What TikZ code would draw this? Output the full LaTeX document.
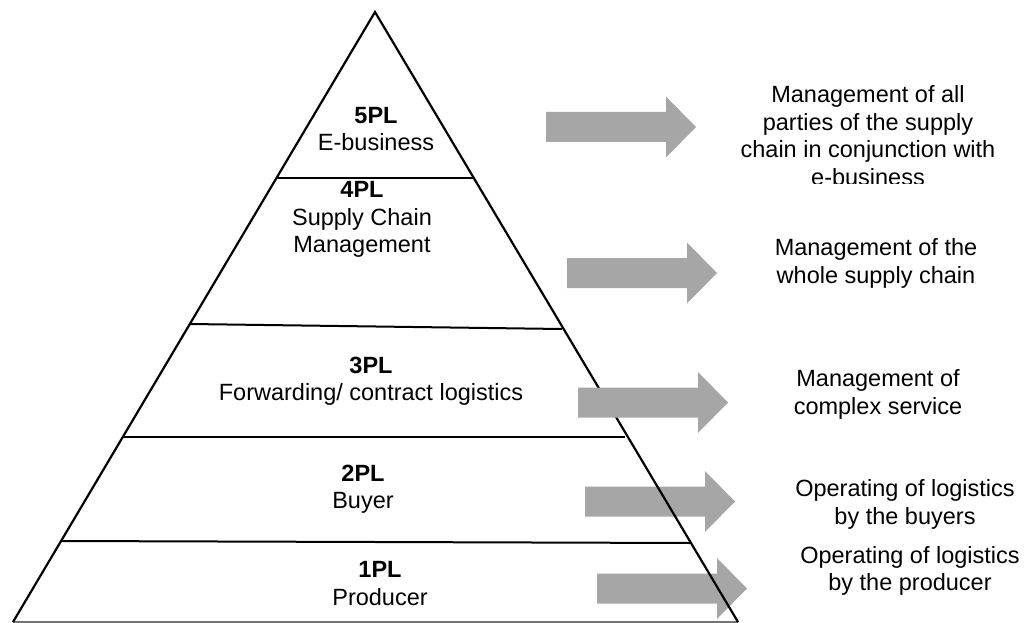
\documentclass[tikz,border=0pt]{standalone}
\usepackage{fontspec}
\setmainfont{Liberation Sans}
\begin{document}
\begin{tikzpicture}[x=1pt,y=-1pt,
  edge/.style={line width=2.2pt,black,line join=miter},
  divider/.style={line width=2pt,black},
  baseline gray/.style={line width=1.6pt,black!55},
  label/.style={align=center,inner sep=0pt,font=\fontsize{23.5}{27.5}\selectfont},
  blockarrow/.pic={\fill[arrowfill] (0,-15) -- (120,-15) -- (120,-30.5) -- (150,0)
      -- (120,30.5) -- (120,15) -- (0,15) -- cycle;}]
\definecolor{arrowfill}{RGB}{166,166,166}
\useasboundingbox (0,0) rectangle (1028,623);

% arrows that sit beneath the pyramid outline
\pic at (585,501.5) {blockarrow};
\pic at (597,588.5) {blockarrow};

% pyramid outline and tiers
\coordinate (apex) at (375,12);
\coordinate (bl) at (13,622);
\coordinate (br) at (738,622);
\draw[baseline gray] (bl) -- (br);
\draw[edge] (bl) -- (apex) -- (br);
\draw[divider] (277,178) -- (473,178);
\draw[divider] (190,324) -- (562,329);
\draw[divider] (123,437) -- (625,437);
\draw[divider] (62,541) -- (690,543);

% arrows drawn over the outline
\pic at (546,127) {blockarrow};
\pic at (567,273) {blockarrow};
\pic at (578,402.5) {blockarrow};

% tier labels
\node[label] (p5) at (376,129) {\textbf{5PL}\\E-business};
\node[label] (p4) at (362,219.5) {\textbf{4PL}\\Supply Chain\\Management};
\node[label] (p3) at (371,381) {\textbf{3PL}\\Forwarding/ contract logistics};
\node[label] (p2) at (363,489) {\textbf{2PL}\\Buyer};
\node[label] (p1) at (380,583.5) {\textbf{1PL}\\Producer};

% descriptions
\begin{scope}
  \clip (700,60) rectangle (1028,183);
  \node[label] (d5) at (868,135.5) {Management of all\\parties of the supply\\chain in conjunction with\\e-business};
\end{scope}
\node[label] (d4) at (876,263.5) {Management of the\\whole supply chain};
\node[label] (d3) at (878,394.5) {Management of\\complex service};
\node[label] (d2) at (905,504.5) {Operating of logistics\\by the buyers};
\node[label] (d1) at (910,571) {Operating of logistics\\by the producer};
\end{tikzpicture}
\end{document}
